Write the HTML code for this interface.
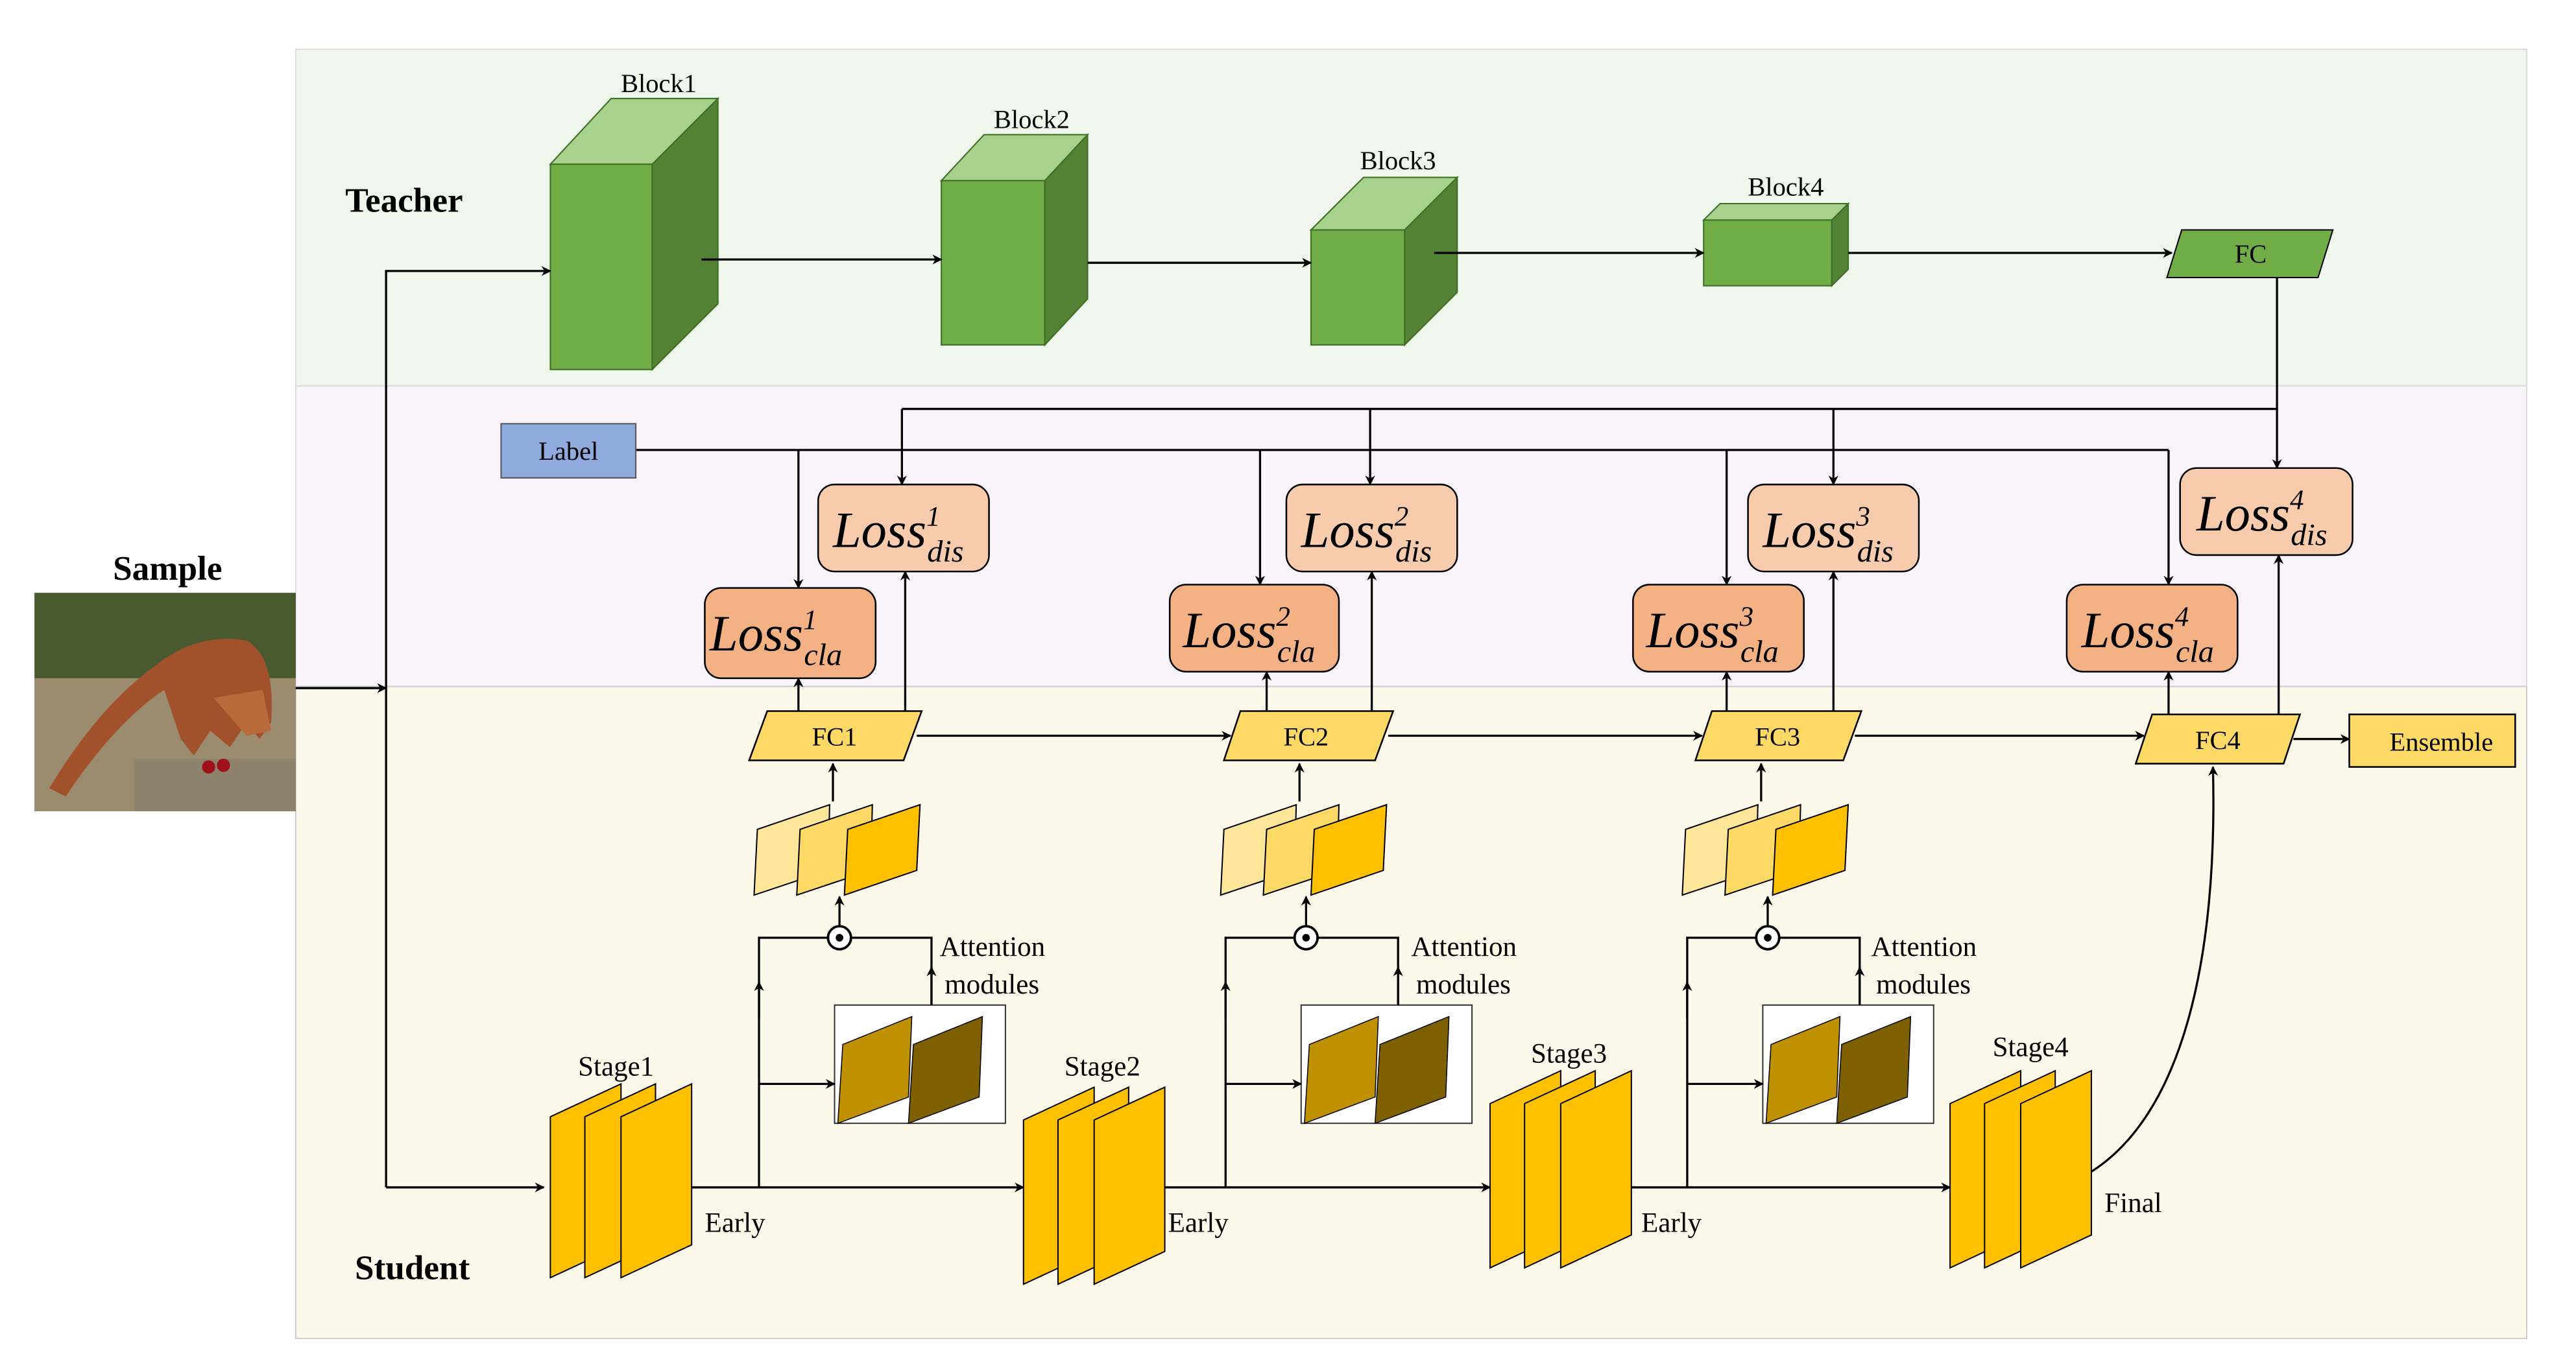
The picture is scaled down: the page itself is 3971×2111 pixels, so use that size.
<!DOCTYPE html>
<html><head><meta charset="utf-8"><style>
html,body{margin:0;padding:0;background:#fff;}
svg{display:block;}
svg text{font-family:"Liberation Serif","Times New Roman",serif;fill:#000;}
</style></head><body>
<svg width="3971" height="2111" viewBox="0 0 1568 833.6" preserveAspectRatio="none" xmlns="http://www.w3.org/2000/svg" font-family="Liberation Serif, serif">
<defs>
<marker id="a" viewBox="0 0 10 10" refX="9" refY="5" markerWidth="6" markerHeight="6" orient="auto-start-reverse" markerUnits="userSpaceOnUse"><path d="M0,0 L10,5 L0,10 L3,5 z" fill="#000"/></marker>
</defs>
<rect x="180" y="30" width="1358" height="205" fill="#eff6eb" stroke="#ddd" stroke-width="0.8"/>
<rect x="180" y="235" width="1358" height="183" fill="#f9f3fb" stroke="#ddd" stroke-width="0.8"/>
<rect x="180" y="418" width="1358" height="397" fill="#fcf9eb" stroke="#ccc" stroke-width="0.8"/>

<g font-family="Liberation Serif, serif">
<text x="246" y="129" font-size="21" font-weight="bold" text-anchor="middle">Teacher</text>
<text x="251" y="779" font-size="21" font-weight="bold" text-anchor="middle">Student</text>
<text x="102" y="353" font-size="21" font-weight="bold" text-anchor="middle">Sample</text>
</g>

<g>
<rect x="21" y="361" width="159" height="133" fill="#8a7a60"/>
<rect x="21" y="361" width="159" height="52" fill="#4a5a30"/>
<rect x="21" y="413" width="159" height="81" fill="#9b8c70"/>
<path d="M30,480 Q60,430 95,405 Q120,385 150,390 Q168,400 165,440 L158,450 L150,440 L140,455 L128,445 L118,460 L110,450 L100,420 Q70,440 40,485 Z" fill="#a2522a"/>
<path d="M130,425 L160,420 L165,445 L150,448 Z" fill="#b86a3a"/>
<rect x="82" y="462" width="98" height="32" fill="#8e826c"/>
<circle cx="127" cy="467" r="4" fill="#a0101a"/><circle cx="136" cy="466" r="4" fill="#a0101a"/>
</g>

<g stroke="#3c6e24" stroke-width="0.8">
<polygon points="335,100 372,60 437,60 397,100" fill="#a9d18e"/>
<rect x="335" y="100" width="62" height="125" fill="#70ad47"/>
<polygon points="397,100 437,60 437,185 397,225" fill="#548235"/>
<polygon points="573,110 599,82 662,82 636,110" fill="#a9d18e"/>
<rect x="573" y="110" width="63" height="100" fill="#70ad47"/>
<polygon points="636,110 662,82 662,182 636,210" fill="#548235"/>
<polygon points="798,140 830,108 887,108 855,140" fill="#a9d18e"/>
<rect x="798" y="140" width="57" height="70" fill="#70ad47"/>
<polygon points="855,140 887,108 887,178 855,210" fill="#548235"/>
<polygon points="1037,134 1047,124 1125,124 1115,134" fill="#a9d18e"/>
<rect x="1037" y="134" width="78" height="40" fill="#70ad47"/>
<polygon points="1115,134 1125,124 1125,164 1115,174" fill="#548235"/>
<polygon points="1328,140 1420,140 1411,169 1319,169" fill="#70ad47" stroke="#000"/>
</g>
<g font-size="16" text-anchor="middle" font-family="Liberation Serif, serif">
<text x="401" y="56">Block1</text><text x="628" y="78">Block2</text><text x="851" y="103">Block3</text><text x="1087" y="119">Block4</text>
<text x="1370" y="160">FC</text>
</g>
<g stroke="#000" stroke-width="1.3" fill="none" marker-end="url(#a)">
<line x1="427" y1="158" x2="573" y2="158"/>
<line x1="662" y1="160" x2="798" y2="160"/>
<line x1="873" y1="154" x2="1037" y2="154"/>
<line x1="1125" y1="154" x2="1322" y2="154"/>
<polyline points="180,419 235,419"/>
<polyline points="235,723 235,165 335,165"/>
<line x1="235" y1="723" x2="331" y2="723"/>
</g>

<g stroke="#000" stroke-width="1.3" fill="none">
<polyline points="1386,169 1386,249 549,249"/>
<line x1="387" y1="274" x2="1320" y2="274"/>
</g>
<g stroke="#000" stroke-width="1.3" marker-end="url(#a)">
<line x1="549" y1="249" x2="549" y2="295"/>
<line x1="834" y1="249" x2="834" y2="295"/>
<line x1="1116" y1="249" x2="1116" y2="295"/>
<line x1="1386" y1="249" x2="1386" y2="285"/>
<line x1="486" y1="274" x2="486" y2="358"/>
<line x1="767" y1="274" x2="767" y2="356"/>
<line x1="1051" y1="274" x2="1051" y2="356"/>
<line x1="1320" y1="274" x2="1320" y2="356"/>
</g>
<rect x="305" y="258" width="82" height="33" fill="#8faadc" stroke="#555" stroke-width="0.8"/>
<text x="346" y="280" font-size="16" text-anchor="middle" font-family="Liberation Serif, serif">Label</text>

<g stroke="#000" stroke-width="1">
<rect x="498" y="295" width="104" height="53" rx="10" fill="#f8cbad"/>
<rect x="783" y="295" width="104" height="53" rx="10" fill="#f8cbad"/>
<rect x="1064" y="295" width="104" height="53" rx="10" fill="#f8cbad"/>
<rect x="1327" y="285" width="105" height="53" rx="10" fill="#f8cbad"/>
<rect x="429" y="358" width="104" height="55" rx="10" fill="#f4b183"/>
<rect x="712" y="356" width="103" height="53" rx="10" fill="#f4b183"/>
<rect x="994" y="356" width="104" height="53" rx="10" fill="#f4b183"/>
<rect x="1258" y="356" width="104" height="53" rx="10" fill="#f4b183"/>
</g>
<g font-style="italic" font-family="Liberation Serif, serif">
<text x="507" y="333" font-size="31">Loss<tspan font-size="17" dy="-13">1</tspan><tspan font-size="19" dx="-8" dy="22">dis</tspan></text>
<text x="792" y="333" font-size="31">Loss<tspan font-size="17" dy="-13">2</tspan><tspan font-size="19" dx="-8" dy="22">dis</tspan></text>
<text x="1073" y="333" font-size="31">Loss<tspan font-size="17" dy="-13">3</tspan><tspan font-size="19" dx="-8" dy="22">dis</tspan></text>
<text x="1337" y="323" font-size="31">Loss<tspan font-size="17" dy="-13">4</tspan><tspan font-size="19" dx="-8" dy="22">dis</tspan></text>
<text x="432" y="396" font-size="31">Loss<tspan font-size="17" dy="-13">1</tspan><tspan font-size="19" dx="-8" dy="22">cla</tspan></text>
<text x="720" y="394" font-size="31">Loss<tspan font-size="17" dy="-13">2</tspan><tspan font-size="19" dx="-8" dy="22">cla</tspan></text>
<text x="1002" y="394" font-size="31">Loss<tspan font-size="17" dy="-13">3</tspan><tspan font-size="19" dx="-8" dy="22">cla</tspan></text>
<text x="1267" y="394" font-size="31">Loss<tspan font-size="17" dy="-13">4</tspan><tspan font-size="19" dx="-8" dy="22">cla</tspan></text>
</g>

<g stroke="#000" stroke-width="1" fill="#ffd966">
<polygon points="467,433 561,433 550,463 456,463"/>
<polygon points="755,433 848,433 837,463 745,463"/>
<polygon points="1042,433 1133,433 1122,463 1032,463"/>
<polygon points="1310,435 1400,435 1390,465 1300,465"/>
<rect x="1430" y="435" width="101" height="32"/>
</g>
<g font-size="16" text-anchor="middle" font-family="Liberation Serif, serif">
<text x="508" y="454">FC1</text><text x="795" y="454">FC2</text><text x="1082" y="454">FC3</text><text x="1350" y="456">FC4</text>
<text x="1486" y="457">Ensemble</text>
</g>
<g stroke="#000" stroke-width="1.3" marker-end="url(#a)">
<line x1="486" y1="433" x2="486" y2="413"/><line x1="551" y1="433" x2="551" y2="348"/>
<line x1="771" y1="433" x2="771" y2="409"/><line x1="835" y1="433" x2="835" y2="348"/>
<line x1="1051" y1="433" x2="1051" y2="409"/><line x1="1116" y1="433" x2="1116" y2="348"/>
<line x1="1320" y1="435" x2="1320" y2="409"/><line x1="1387" y1="435" x2="1387" y2="338"/>
<line x1="558" y1="448" x2="749" y2="448"/>
<line x1="845" y1="448" x2="1036" y2="448"/>
<line x1="1129" y1="448" x2="1305" y2="448"/>
<line x1="1396" y1="450" x2="1430" y2="450"/>
<line x1="420" y1="723" x2="623" y2="723"/>
<line x1="693" y1="723" x2="907" y2="723"/>
<line x1="974" y1="723" x2="1187" y2="723"/>
<path d="M1265,718 C1330,685 1350,580 1347,467" fill="none"/>
</g>

<g font-family="Liberation Serif, serif">
<g>
<g stroke="#000" stroke-width="0.8">
<polygon points="461,505 505,490 504,530 459,545" fill="#ffe699"/>
<polygon points="487,505 531,490 530,530 485,545" fill="#ffd966"/>
<polygon points="516,505 560,490 558,530 514,545" fill="#ffc000"/>
</g>
<rect x="508" y="612" width="104" height="72" fill="#fff" stroke="#333" stroke-width="0.8"/>
<g stroke="#000" stroke-width="0.6">
<polygon points="513,636 555,619 553,668 510,684" fill="#bf9000"/>
<polygon points="556,636 598,619 596,668 553,684" fill="#7f6000"/>
</g>
<g stroke="#000" stroke-width="1.3" fill="none">
<polyline points="462,723 462,571 504,571"/>
<polyline points="518,571 567,571 567,612"/>
</g>
<g stroke="#000" stroke-width="1.3" marker-end="url(#a)">
<line x1="462" y1="620" x2="462" y2="598"/>
<line x1="567" y1="612" x2="567" y2="589"/>
<line x1="462" y1="660" x2="508" y2="660"/>
<line x1="511" y1="564" x2="511" y2="546"/>
<line x1="507" y1="488" x2="507" y2="465"/>
</g>
<circle cx="511" cy="571" r="7" fill="#fff" stroke="#000" stroke-width="1.5"/>
<circle cx="511" cy="571" r="2.3" fill="#000"/>
<text x="572" y="582" font-size="17">Attention</text>
<text x="575" y="605" font-size="17">modules</text>
</g>
<g transform="translate(284,0)">
<g stroke="#000" stroke-width="0.8">
<polygon points="461,505 505,490 504,530 459,545" fill="#ffe699"/>
<polygon points="487,505 531,490 530,530 485,545" fill="#ffd966"/>
<polygon points="516,505 560,490 558,530 514,545" fill="#ffc000"/>
</g>
<rect x="508" y="612" width="104" height="72" fill="#fff" stroke="#333" stroke-width="0.8"/>
<g stroke="#000" stroke-width="0.6">
<polygon points="513,636 555,619 553,668 510,684" fill="#bf9000"/>
<polygon points="556,636 598,619 596,668 553,684" fill="#7f6000"/>
</g>
<g stroke="#000" stroke-width="1.3" fill="none">
<polyline points="462,723 462,571 504,571"/>
<polyline points="518,571 567,571 567,612"/>
</g>
<g stroke="#000" stroke-width="1.3" marker-end="url(#a)">
<line x1="462" y1="620" x2="462" y2="598"/>
<line x1="567" y1="612" x2="567" y2="589"/>
<line x1="462" y1="660" x2="508" y2="660"/>
<line x1="511" y1="564" x2="511" y2="546"/>
<line x1="507" y1="488" x2="507" y2="465"/>
</g>
<circle cx="511" cy="571" r="7" fill="#fff" stroke="#000" stroke-width="1.5"/>
<circle cx="511" cy="571" r="2.3" fill="#000"/>
<text x="575" y="582" font-size="17">Attention</text>
<text x="578" y="605" font-size="17">modules</text>
</g>
<g transform="translate(565,0)">
<g stroke="#000" stroke-width="0.8">
<polygon points="461,505 505,490 504,530 459,545" fill="#ffe699"/>
<polygon points="487,505 531,490 530,530 485,545" fill="#ffd966"/>
<polygon points="516,505 560,490 558,530 514,545" fill="#ffc000"/>
</g>
<rect x="508" y="612" width="104" height="72" fill="#fff" stroke="#333" stroke-width="0.8"/>
<g stroke="#000" stroke-width="0.6">
<polygon points="513,636 555,619 553,668 510,684" fill="#bf9000"/>
<polygon points="556,636 598,619 596,668 553,684" fill="#7f6000"/>
</g>
<g stroke="#000" stroke-width="1.3" fill="none">
<polyline points="462,723 462,571 504,571"/>
<polyline points="518,571 567,571 567,612"/>
</g>
<g stroke="#000" stroke-width="1.3" marker-end="url(#a)">
<line x1="462" y1="620" x2="462" y2="598"/>
<line x1="567" y1="612" x2="567" y2="589"/>
<line x1="462" y1="660" x2="508" y2="660"/>
<line x1="511" y1="564" x2="511" y2="546"/>
<line x1="507" y1="488" x2="507" y2="465"/>
</g>
<circle cx="511" cy="571" r="7" fill="#fff" stroke="#000" stroke-width="1.5"/>
<circle cx="511" cy="571" r="2.3" fill="#000"/>
<text x="574" y="582" font-size="17">Attention</text>
<text x="577" y="605" font-size="17">modules</text>
</g>
</g>

<g stroke="#000" stroke-width="0.8" fill="#ffc000">
<g transform="translate(335,660)">
<polygon points="0,20 43,0 43,98 0,118"/><polygon points="21,20 64,0 64,98 21,118"/><polygon points="43,20 86,0 86,98 43,118"/>
</g>
<g transform="translate(623,662)">
<polygon points="0,20 43,0 43,100 0,120"/><polygon points="21,20 64,0 64,100 21,120"/><polygon points="43,20 86,0 86,100 43,120"/>
</g>
<g transform="translate(907,652)">
<polygon points="0,20 43,0 43,100 0,120"/><polygon points="21,20 64,0 64,100 21,120"/><polygon points="43,20 86,0 86,100 43,120"/>
</g>
<g transform="translate(1187,652)">
<polygon points="0,20 43,0 43,100 0,120"/><polygon points="21,20 64,0 64,100 21,120"/><polygon points="43,20 86,0 86,100 43,120"/>
</g>
</g>
<g font-size="17" font-family="Liberation Serif, serif">
<text x="375" y="655" text-anchor="middle">Stage1</text>
<text x="671" y="655" text-anchor="middle">Stage2</text>
<text x="955" y="647" text-anchor="middle">Stage3</text>
<text x="1236" y="643" text-anchor="middle">Stage4</text>
<text x="429" y="750">Early</text>
<text x="711" y="750">Early</text>
<text x="999" y="750">Early</text>
<text x="1281" y="738">Final</text>
</g>
</svg>
</body></html>
